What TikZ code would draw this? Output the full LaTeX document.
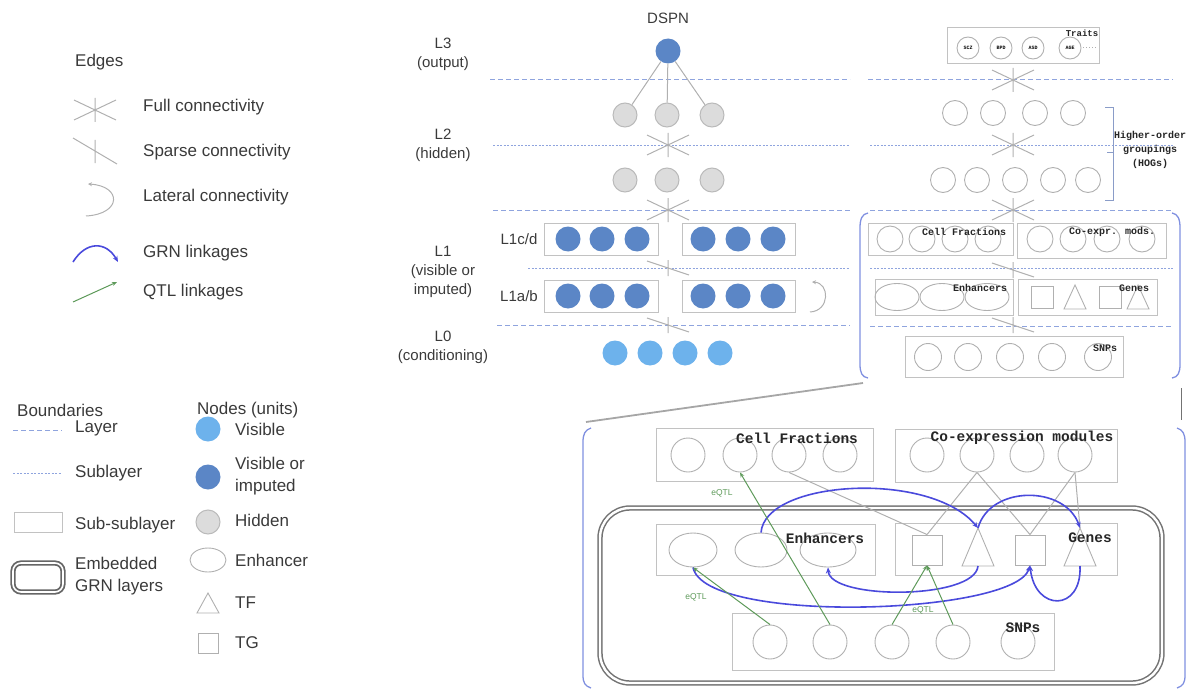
\documentclass[tikz,border=0pt]{standalone}
\usepackage{fontspec}
\setmainfont{Liberation Sans}
\newfontfamily\monob{Liberation Mono}
\usetikzlibrary{arrows.meta,shapes.geometric}
\definecolor{lgray}{HTML}{B0B0B0}
\definecolor{boxgray}{HTML}{C2C2C2}
\definecolor{txt}{HTML}{3A3A3A}
\definecolor{visb}{HTML}{6DB2EC}
\definecolor{impb}{HTML}{5B86C6}
\definecolor{hidf}{HTML}{DCDCDC}
\definecolor{hidd}{HTML}{BABABA}
\definecolor{linb}{HTML}{8FA4DE}
\definecolor{grnb}{HTML}{4A4ADC}
\definecolor{qtlg}{HTML}{5E9A5A}
\definecolor{brk}{HTML}{8090E0}
\definecolor{hogb}{HTML}{8A9CC8}
\begin{document}
\begin{tikzpicture}[x=1pt,y=-1pt,
  lbl/.style={font=\fontsize{17}{22}\selectfont, text=txt, anchor=west, inner sep=0, align=left},
  lyr/.style={font=\fontsize{15}{19}\selectfont, text=txt, align=center, inner sep=0},
  vnode/.style={circle, fill=visb, draw=none, minimum size=25pt, inner sep=0},
  inode/.style={circle, fill=impb, draw=none, minimum size=25pt, inner sep=0},
  hnode/.style={circle, fill=hidf, draw=hidd, line width=1pt, minimum size=24pt, inner sep=0},
  onode/.style={circle, draw=lgray, line width=0.9pt, inner sep=0},
  enode/.style={ellipse, draw=lgray, line width=0.9pt, inner sep=0},
  snode/.style={rectangle, draw=lgray, line width=0.9pt, inner sep=0},
  ssbox/.style={draw=boxgray, line width=0.9pt},
  layerln/.style={draw=linb, line width=1pt, dash pattern=on 5pt off 3pt},
  sublyrln/.style={draw=linb, line width=0.9pt, dash pattern=on 2pt off 1.5pt},
  conn/.style={draw=lgray, line width=1pt},
  grnarc/.style={draw=grnb, line width=1.6pt, -{Stealth[length=6pt,width=5pt]}},
  qtlln/.style={draw=qtlg, line width=1pt, -{Stealth[length=5pt,width=4pt]}},
  mlab/.style={font=\monob\bfseries\fontsize{14.5}{16}\selectfont, text=black!85, inner sep=0},
  slab/.style={font=\monob\bfseries\fontsize{10}{14}\selectfont, text=black!85, inner sep=0, align=center},
  qlab/.style={font=\fontsize{8.5}{10}\selectfont, text=qtlg, inner sep=0},
  fullconn/.pic={\draw[conn] (-21,-10)--(21,10) (-21,10)--(21,-10) (0,-12)--(0,12);},
  sparseconn/.pic={\draw[conn] (-21,-7)--(21,7) (0,-8)--(0,8);}
]
\useasboundingbox (0,0) rectangle (1191,698);

% ---------------- Legend: edges
\node[lbl] (edges) at (75,62) {Edges};
\pic at (95,110) {fullconn};
\node[lbl] (lfull) at (143,107) {Full connectivity};
\draw[conn] (73,138)--(117,164) (95,140)--(95,163);
\node[lbl] (lsparse) at (143,152) {Sparse connectivity};
\draw[conn, -{Stealth[length=4pt,width=4pt]}] (86,216) .. controls (122,214) and (122,186) .. (88,184);
\node[lbl] (llat) at (143,197) {Lateral connectivity};
\draw[grnarc] (73,262) .. controls (86,241) and (106,241) .. (118,262);
\node[lbl] (lgrn) at (143,253) {GRN linkages};
\draw[qtlln] (73,302)--(117,282);
\node[lbl] (lqtl) at (143,292) {QTL linkages};

% ---------------- Legend: boundaries
\node[lbl] (bnd) at (17,410) {Boundaries};
\node[lbl] (nds) at (197,410) {Nodes (units)};
\draw[layerln] (13,430)--(62,430);
\node[lbl] (llayer) at (75,428) {Layer};
\draw[sublyrln] (13,473)--(62,473);
\node[lbl] (lsub) at (75,473) {Sublayer};
\draw[ssbox] (14,512) rectangle (62,532);
\node[lbl] (lssub) at (75,525) {Sub-sublayer};
\draw[draw=black!60, line width=1.8pt, double=white, double distance=1.6pt, rounded corners=8pt] (13,563) rectangle (63,592);
\node[lbl] (lemb) at (75,576) {Embedded\\GRN layers};

% ---------------- Legend: nodes
\node[vnode] (kv) at (208,429) {};
\node[lbl] (kvt) at (235,429) {Visible};
\node[inode] (ki) at (208,477) {};
\node[lbl] (kit) at (235,476) {Visible or\\imputed};
\node[hnode] (kh) at (208,522) {};
\node[lbl] (kht) at (235,520) {Hidden};
\node[enode, minimum width=36pt, minimum height=24pt] (ke) at (208,560) {};
\node[lbl] (ket) at (235,560) {Enhancer};
\draw[draw=lgray, line width=0.9pt] (197,613)--(208,593)--(219,613)--cycle;
\node[lbl] (ktf) at (235,603) {TF};
\node[snode, minimum size=20pt] (ktg) at (208,643) {};
\node[lbl] (ktgt) at (235,643) {TG};

% ---------------- DSPN column labels
\node[lyr] (dspn) at (668,18) {DSPN};
\node[lyr] (L3) at (443,54) {L3\\(output)};
\node[lyr] (L2) at (443,145) {L2\\(hidden)};
\node[lyr] (L1) at (443,272) {L1\\(visible or\\imputed)};
\node[lyr] (L0) at (443,347) {L0\\(conditioning)};
\node[lyr] (L1cd) at (519,239) {L1c/d};
\node[lyr] (L1ab) at (519,296) {L1a/b};

% layer lines
\draw[layerln] (490,80)--(850,80);
\draw[layerln] (868,80)--(1173,80);
\draw[sublyrln] (493,145)--(850,145);
\draw[sublyrln] (870,145)--(1173,145);
\draw[layerln] (493,210)--(850,210);
\draw[layerln] (870,210)--(1173,210);
\draw[sublyrln] (528,268)--(850,268);
\draw[sublyrln] (870,268)--(1173,268);
\draw[layerln] (497,325)--(850,325);
\draw[layerln] (870,326)--(1173,326);

% DSPN nodes
\node[inode] (out) at (668,51) {};
\node[hnode] (ha1) at (625,115) {};
\node[hnode] (ha2) at (667,115) {};
\node[hnode] (ha3) at (712,115) {};
\draw[conn] (out) -- (ha1) (out) -- (ha2) (out) -- (ha3);
\pic at (668,145) {fullconn};
\node[hnode] (hb1) at (625,180) {};
\node[hnode] (hb2) at (667,180) {};
\node[hnode] (hb3) at (712,180) {};
\pic at (668,210) {fullconn};

\draw[ssbox] (544,223) rectangle (658,255);
\draw[ssbox] (682,223) rectangle (795,255);
\foreach \x/\n in {568/1,602/2,637/3,703/4,738/5,773/6}{\node[inode] (cd\n) at (\x,239) {};}
\pic at (668,268) {sparseconn};
\draw[ssbox] (544,280) rectangle (658,312);
\draw[ssbox] (682,280) rectangle (795,312);
\foreach \x/\n in {568/1,602/2,637/3,703/4,738/5,773/6}{\node[inode] (ab\n) at (\x,296) {};}
\draw[conn, -{Stealth[length=4pt,width=4pt]}] (810,312) .. controls (830,311) and (830,283) .. (812,282);
\pic at (668,325) {sparseconn};
\foreach \x/\n in {615/1,650/2,685/3,720/4}{\node[vnode] (v\n) at (\x,353) {};}

% ---------------- Top right overview
\draw[ssbox] (947,27) rectangle (1099,63);
\foreach \x/\t in {968/SCZ,1001/BPD,1033/ASD,1070/AGE}{\node[onode, minimum size=22pt, font=\monob\bfseries\fontsize{5}{6}\selectfont] (tr\t) at (\x,48) {\t};}
\draw[draw=lgray, line width=1pt, dash pattern=on 1pt off 2pt] (1083,48)--(1097,48);
\node[slab, font=\monob\bfseries\fontsize{9}{10}\selectfont] (traits) at (1082,33) {Traits};
\pic at (1013,80) {fullconn};
\foreach \x/\n in {955/1,993/2,1035/3,1073/4}{\node[onode, minimum size=25pt] (ga\n) at (\x,113) {};}
\pic at (1013,145) {fullconn};
\foreach \x/\n in {943/1,977/2,1015/3,1053/4,1088/5}{\node[onode, minimum size=25pt] (gb\n) at (\x,180) {};}
\pic at (1013,210) {fullconn};
\draw[draw=hogb, line width=0.9pt] (1105,107)--(1113,107)--(1113,200)--(1105,200) (1113,152)--(1107,152);
\node[slab] (hog) at (1150,150) {Higher-order\\groupings\\(HOGs)};

\draw[draw=brk, line width=1.3pt] (868,213) .. controls (862,214) and (860,219) .. (860,228) -- (860,364) .. controls (860,373) and (862,377) .. (868,378);
\draw[draw=brk, line width=1.3pt] (1172,213) .. controls (1178,214) and (1180,219) .. (1180,228) -- (1180,364) .. controls (1180,373) and (1178,377) .. (1172,378);

\draw[ssbox] (868,223) rectangle (1013,255);
\foreach \x/\n in {890/1,922/2,955/3,988/4}{\node[onode, minimum size=26pt] (scf\n) at (\x,239) {};}
\node[slab] (scft) at (964,232) {Cell Fractions};
\draw[ssbox] (1017,223) rectangle (1166,258);
\foreach \x/\n in {1040/1,1073/2,1107/3,1142/4}{\node[onode, minimum size=26pt] (sce\n) at (\x,239) {};}
\node[slab] (scet) at (1112,232) {Co-expr. mods.};
\pic at (1013,270) {sparseconn};
\draw[ssbox] (875,279) rectangle (1013,315);
\foreach \x/\n in {897/1,942/2,987/3}{\node[enode, minimum width=44pt, minimum height=27pt] (sen\n) at (\x,297) {};}
\node[slab] (sent) at (980,288) {Enhancers};
\draw[ssbox] (1018,279) rectangle (1157,315);
\node[snode, minimum size=22pt] (ssq1) at (1042,297) {};
\draw[draw=lgray, line width=0.9pt] (1064,309)--(1075,285)--(1086,309)--cycle;
\node[snode, minimum size=22pt] (ssq2) at (1110,297) {};
\draw[draw=lgray, line width=0.9pt] (1127,309)--(1138,285)--(1149,309)--cycle;
\node[slab] (sgt) at (1134,288) {Genes};
\pic at (1013,325) {sparseconn};
\draw[ssbox] (905,336) rectangle (1123,377);
\foreach \x/\n in {928/1,968/2,1010/3,1052/4,1098/5}{\node[onode, minimum size=27pt] (ssn\n) at (\x,357) {};}
\node[slab] (ssnt) at (1105,348) {SNPs};

% zoom connectors
\coordinate (zA) at (863,383);
\coordinate (zB) at (586,422);
\draw[draw=black!35, line width=1.8pt] (zA) -- (zB);
\coordinate (zC) at (1181,388);
\coordinate (zD) at (1181,420);
\draw[draw=black!55, line width=0.8pt] (zC) -- (zD);

% ---------------- Bottom detailed view
\draw[draw=brk, line width=1.3pt] (591,428) .. controls (585,430) and (583,434) .. (583,442) -- (583,675) .. controls (583,683) and (585,686) .. (591,688);
\draw[draw=brk, line width=1.3pt] (1177,428) .. controls (1183,430) and (1185,434) .. (1185,442) -- (1185,675) .. controls (1185,683) and (1183,686) .. (1177,688);

\draw[draw=black!55, line width=1.5pt, double=white, double distance=2.4pt, rounded corners=30pt] (600,508) rectangle (1162,683);

\draw[ssbox] (656,428) rectangle (873,481);
\foreach \x/\n in {688/1,740/2,789/3,840/4}{\node[onode, minimum size=34pt] (cf\n) at (\x,455) {};}
\node[mlab] (cft) at (797,438) {Cell Fractions};
\draw[ssbox] (895,429) rectangle (1117,482);
\foreach \x/\n in {927/1,977/2,1027/3,1075/4}{\node[onode, minimum size=34pt] (ce\n) at (\x,455) {};}
\node[mlab] (cet) at (1022,438) {Co-expression modules};

\draw[ssbox] (656,524) rectangle (875,575);
\node[enode, minimum width=48pt, minimum height=34pt] (en1) at (693,550) {};
\node[enode, minimum width=52pt, minimum height=34pt] (en2) at (761,550) {};
\node[enode, minimum width=56pt, minimum height=34pt] (en3) at (828,550) {};
\node[mlab] (ent) at (825,538) {Enhancers};

\draw[ssbox] (895,523) rectangle (1117,575);
\node[snode, minimum size=30pt] (sq1) at (927,550) {};
\coordinate (t1top) at (978,528);
\coordinate (t1bot) at (978,566);
\draw[draw=lgray, line width=0.9pt] (962,566)--(t1top)--(994,566)--cycle;
\node[snode, minimum size=30pt] (sq2) at (1030,550) {};
\coordinate (t2top) at (1080,528);
\coordinate (t2bot) at (1080,566);
\draw[draw=lgray, line width=0.9pt] (1064,566)--(t2top)--(1096,566)--cycle;
\node[mlab] (gt) at (1090,538) {Genes};

\draw[ssbox] (732,613) rectangle (1054,670);
\foreach \x/\n in {770/1,830/2,892/3,953/4,1018/5}{\node[onode, minimum size=34pt] (sn\n) at (\x,642) {};}
\node[mlab] (snt) at (1023,628) {SNPs};

% gray connectivity
\draw[conn] (cf3.south) -- (sq1.north);
\draw[conn] (ce2.south) -- (sq1.north);
\draw[conn] (ce2.south) -- (sq2.north);
\draw[conn] (ce4.south) -- (sq2.north);
\draw[conn] (ce4.south) -- (t2top);

% GRN arcs
\draw[grnarc] (en2.north) .. controls (765,480) and (930,470) .. (t1top);
\draw[grnarc] (t1top) .. controls (990,485) and (1065,485) .. (t2top);
\draw[grnarc] (t1bot) .. controls (975,600) and (830,600) .. (en3.south);
\draw[grnarc] (en1.south) .. controls (705,625) and (1015,615) .. (sq2.south);
\draw[grnarc] (t2bot) .. controls (1082,612) and (1035,612) .. (sq2.south);

% QTL
\draw[qtlln] (sn2.north) -- (cf2.south);
\draw[qtlln] (sn1.north) -- (en1.south);
\draw[qtlln] (sn3.north) -- (sq1.south);
\draw[qtlln] (sn4.north) -- (sq1.south);
\node[qlab] (q1) at (722,493) {eQTL};
\node[qlab] (q2) at (696,597) {eQTL};
\node[qlab] (q3) at (923,610) {eQTL};
\end{tikzpicture}
\end{document}
